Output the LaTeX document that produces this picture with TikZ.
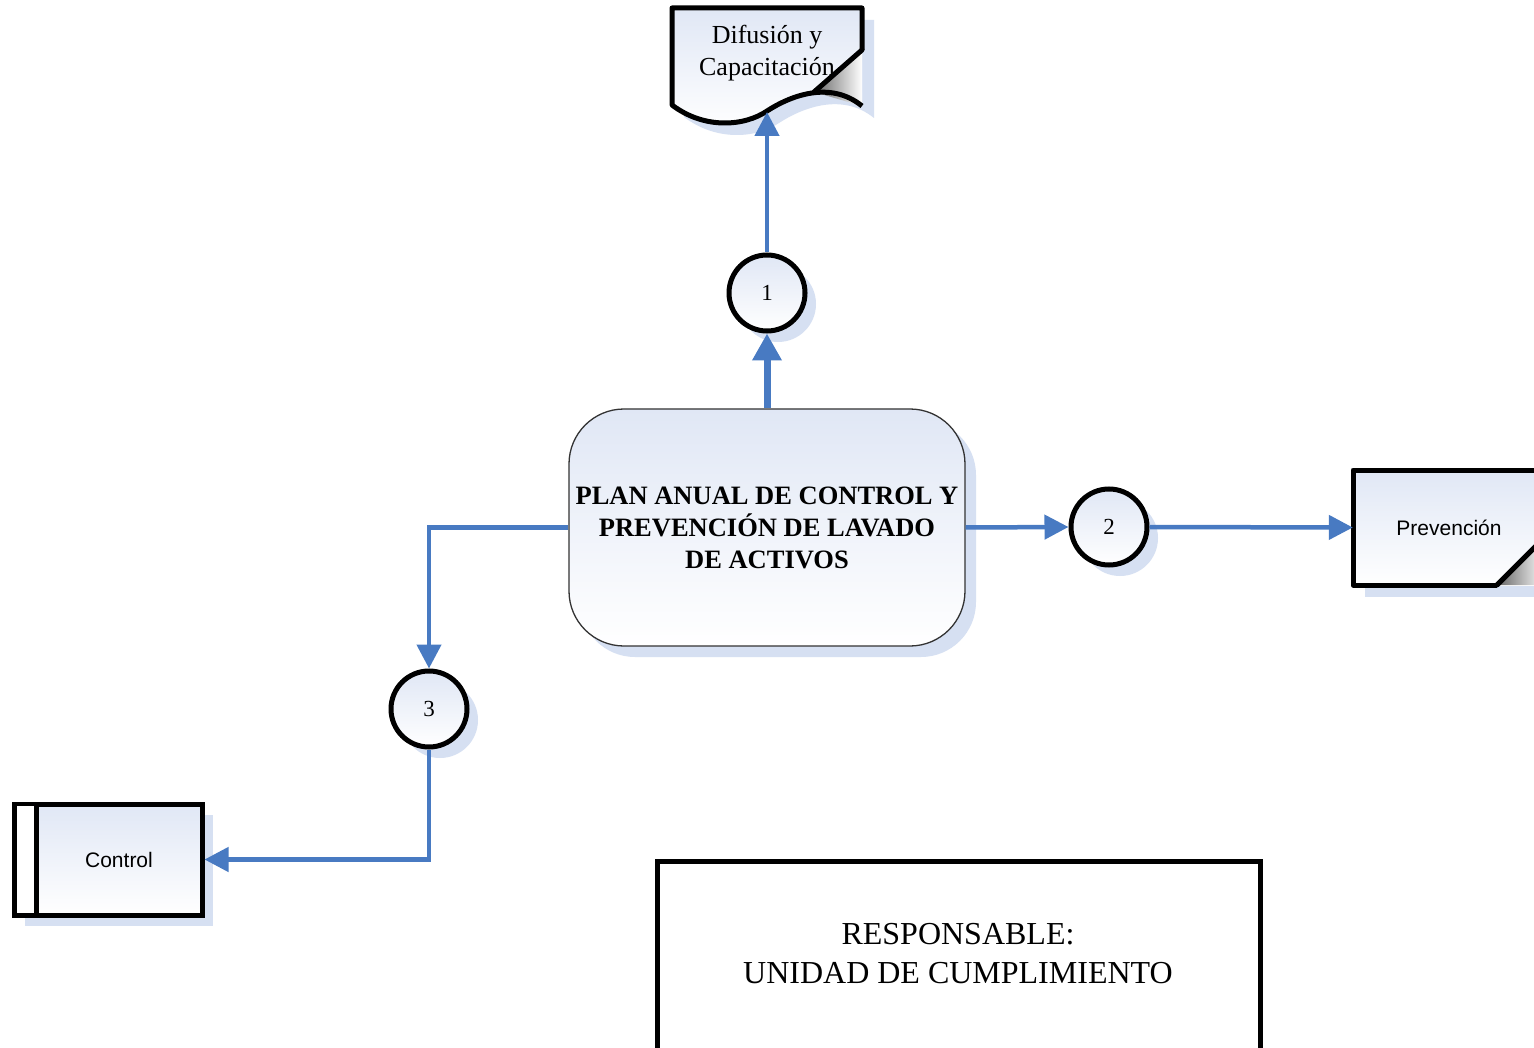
\documentclass[tikz,border=0pt]{standalone}
\usepackage{fontspec}
\setmainfont{Liberation Serif}
\newfontfamily\arialf{Liberation Sans}
\usetikzlibrary{arrows.meta,shadows,calc}
\definecolor{flow}{RGB}{72,122,194}
\definecolor{shad}{RGB}{214,224,242}
\definecolor{grad}{RGB}{224,231,245}
\tikzset{
  flowline/.style={draw=flow, line width=4.5pt},
  arr/.style={flowline, -{Triangle[length=24pt,width=24pt]}},
  myshadow/.style={drop shadow={shadow xshift=11pt, shadow yshift=-11pt, fill=shad, opacity=1}},
  numcirc/.style={circle, draw=black, line width=5pt, minimum size=76pt, inner sep=0pt,
    top color=grad, bottom color=white, myshadow, font=\fontsize{23}{26}\selectfont},
  planbox/.style={rectangle, rounded corners=55pt, draw=black!80, line width=1.3pt,
    minimum width=396pt, minimum height=237pt, top color=grad, bottom color=white, myshadow,
    align=center, font=\bfseries\fontsize{26.5}{32}\selectfont},
  thickbox/.style={rectangle, draw=black, line width=5pt, inner sep=0pt},
  fold/.style={left color=black!60, right color=white}
}
\newcommand\docoutline{(672,8) -- (862,8) -- (862,106) .. controls (830,80) and (790,96) .. (767,111) .. controls (745,126) and (705,130) .. (672,105) -- cycle}
\begin{document}
\begin{tikzpicture}[x=1pt,y=-1pt]
\useasboundingbox (0,0) rectangle (1534,1048);
\fill[white] (0,0) rectangle (1534,1048);

% Document shape
\fill[shad, shift={(12,12)}] \docoutline;
\shade[top color=grad, bottom color=white] \docoutline;
\shade[fold] (862,50) -- (814,92) -- (862,106) -- cycle;
\draw[line width=5pt, line join=round] (862,50) -- (862,8) -- (672,8) -- (672,105)
  .. controls (705,130) and (745,126) .. (767,111) .. controls (790,96) and (830,80) .. (862,106);
\draw[line width=5pt, line cap=round] (862,50) -- (814,92);
\node[align=center, font=\fontsize{26}{32}\selectfont] (doc) at (767,53) {Difusión y\\Capacitación};
\coordinate (docb) at (767,112);

% Prevencion shape
\fill[shad] (1365,482) rectangle (1560,597);
\shade[top color=grad, bottom color=white] (1353,470) rectangle (1545,585);
\shade[fold] (1497,585) -- (1545,537) -- (1545,585) -- cycle;
\draw[line width=5pt, line join=round] (1545,470) -- (1353,470) -- (1353,585) -- (1497,585);
\draw[line width=5pt, line cap=round] (1497,585) -- (1545,537);
\node[minimum width=192pt, minimum height=115pt, inner sep=0pt, font=\arialf\fontsize{21}{24}\selectfont] (prev) at (1449,527.5) {Prevención};

% Control shape
\node[thickbox, minimum width=188pt, minimum height=111pt, top color=grad, bottom color=white, myshadow] (ctl) at (108,859.5) {};
\fill[white] (16.5,806) rectangle (34,913);
\draw[line width=5pt] (36,802) -- (36,917);
\node[font=\arialf\fontsize{21}{24}\selectfont] (ctltxt) at (119,860) {Control};

% Plan
\node[planbox] (plan) at (767,527.5) {PLAN ANUAL DE CONTROL Y\\PREVENCIÓN DE LAVADO\\DE ACTIVOS};

% Circles
\node[numcirc] (c1) at (767,293) {1};
\node[numcirc] (c2) at (1109,527) {2};
\node[numcirc] (c3) at (429,709) {3};

% Responsable
\node[thickbox, minimum width=603pt, minimum height=210pt] (resp) at (958.5,966) {};
\node[align=center, font=\fontsize{32}{39}\selectfont] (resptxt) at (958,953.5) {RESPONSABLE:\\UNIDAD DE CUMPLIMIENTO};

% Connectors
\draw[flowline, line width=7pt, -{Triangle[length=27pt,width=28pt]}] (plan.north) -- (c1.south);
\draw[arr] (c1.north) -- (docb);
\draw[arr] (plan.east) -- (c2.west);
\draw[arr] (c2.east) -- (prev.west);
\draw[arr] (plan.west) -| (c3.north);
\draw[arr] (c3.south) |- (ctl.east);
\end{tikzpicture}
\end{document}
